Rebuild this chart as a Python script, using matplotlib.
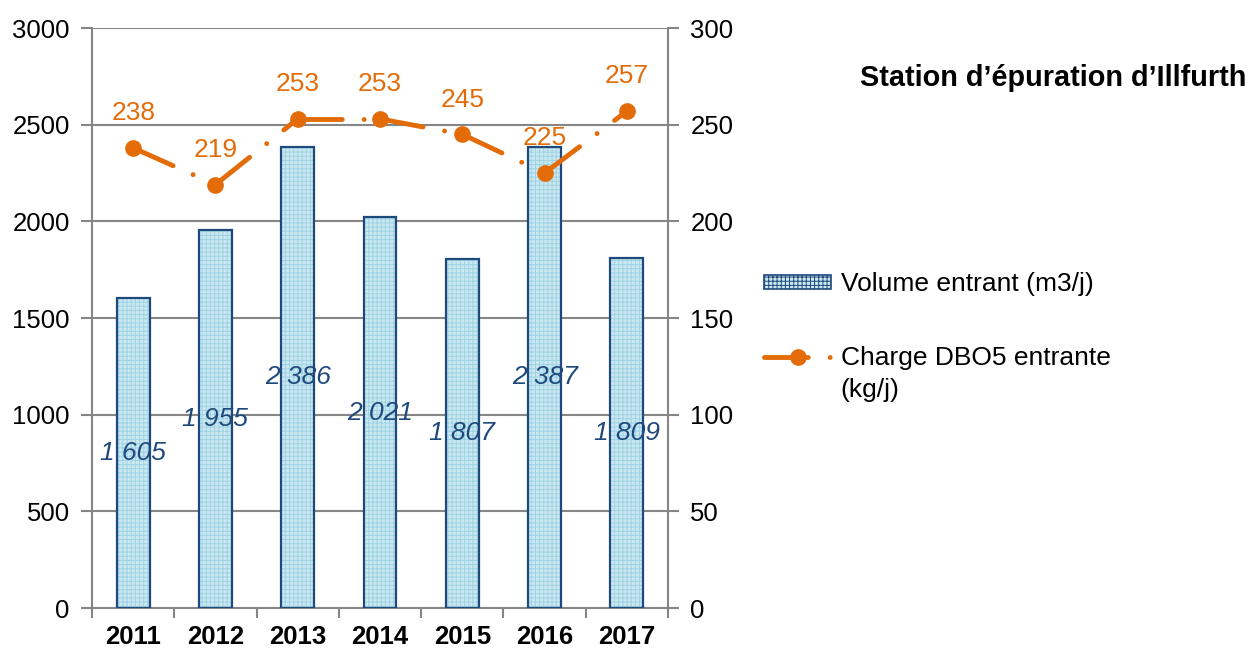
#!/usr/bin/env python3
"""
Station d'épuration d'Illfurth: volume entrant (bars) et charge DBO5 (line).
"""

import matplotlib.pyplot as plt
from matplotlib.patches import Patch
from matplotlib.lines import Line2D
import numpy as np

years = ['2011', '2012', '2013', '2014', '2015', '2016', '2017']
volume = [1605, 1955, 2386, 2021, 1807, 2387, 1809]
volume_labels = ['1 605', '1 955', '2 386', '2 021', '1 807', '2 387', '1 809']
charge = [238, 219, 253, 253, 245, 225, 257]

ORANGE = '#E36C09'
NAVY = '#1F497D'
GREY = '#868686'
FILL = '#CBE8F1'
HATCH = '#9DD3E4'


def main():
    plt.rcParams['font.family'] = ['Liberation Sans', 'DejaVu Sans']
    plt.rcParams['font.size'] = 18.5
    plt.rcParams['hatch.linewidth'] = 0.7

    fig = plt.figure(figsize=(12.55, 6.5), dpi=100)
    ax = fig.add_axes([0.0733, 0.0646, 0.4590, 0.8923])
    ax2 = ax.twinx()

    x = np.arange(len(years))

    # bars: hatched light blue fill, then dark outline on top
    ax.bar(x, volume, width=0.4, color=FILL, edgecolor=HATCH,
           hatch='++++', linewidth=0, zorder=2)
    ax.bar(x, volume, width=0.4, fill=False, edgecolor=NAVY,
           linewidth=1.6, zorder=3)
    for xi, v, lab in zip(x, volume, volume_labels):
        ax.text(xi, v / 2, lab, ha='center', va='center', style='italic',
                color=NAVY, fontsize=19, zorder=4)

    ax.set_xlim(-0.5, len(years) - 0.5)
    ax.set_ylim(0, 3000)
    ax.set_yticks(range(0, 3001, 500))
    ax.yaxis.grid(True, color=GREY, linewidth=1.5)
    ax.set_axisbelow(True)
    ax.set_xticks(x)
    ax.set_xticklabels(years, fontweight='bold')
    ax.set_xticks(np.arange(-0.5, len(years)), minor=True)
    ax.tick_params(axis='x', which='major', length=0, pad=12)
    ax.tick_params(axis='x', which='minor', length=7, color=GREY, width=1.5)
    ax.tick_params(axis='y', length=8, color=GREY, width=1.5, pad=8)
    for s in ['left', 'right', 'bottom']:
        ax.spines[s].set_color(GREY)
        ax.spines[s].set_linewidth(1.5)
    ax.spines['top'].set_visible(False)

    # line: Excel-style dash-dot restarting on each segment
    dashes = (9, 4.5, 0.01, 4.5)
    for i in range(len(charge) - 1):
        ax2.plot(x[i:i + 2], charge[i:i + 2], color=ORANGE, linewidth=3.5,
                 dashes=dashes, dash_capstyle='round', zorder=5)
    ax2.plot(x, charge, linestyle='none', marker='o', markersize=11,
             color=ORANGE, zorder=6)
    for xi, c in zip(x, charge):
        ax2.annotate(str(c), (xi, c), xytext=(0, 25), textcoords='offset points',
                     ha='center', va='center', color=ORANGE, fontsize=19)

    ax2.set_ylim(0, 300)
    ax2.set_yticks(range(0, 301, 50))
    ax2.tick_params(axis='y', length=8, color=GREY, width=1.5, pad=8)
    for s in ['left', 'right', 'bottom', 'top']:
        ax2.spines[s].set_visible(False)

    fig.text(0.685, 0.880, 'Station d\u2019épuration d\u2019Illfurth',
             fontsize=20.8, fontweight='bold', ha='left', va='center')

    handles = [
        Patch(facecolor=FILL, edgecolor=NAVY, hatch='++++', linewidth=1.2),
        Line2D([], [], color=ORANGE, linewidth=3.5, dashes=dashes,
               dash_capstyle='round', marker='o', markersize=11),
    ]
    leg = fig.legend(handles, ['Volume entrant (m3/j)', 'Charge DBO5 entrante'],
                     loc='upper left', bbox_to_anchor=(0.590, 0.618), frameon=False,
                     handlelength=2.55, handleheight=0.45, handletextpad=0.35,
                     labelspacing=1.9, fontsize=19)
    # second line of the line-series label sits under its first line
    fig.canvas.draw()
    bb = leg.get_texts()[1].get_window_extent().transformed(fig.transFigure.inverted())
    fig.text(bb.x0, bb.y0 - 0.012, '(kg/j)', fontsize=19, ha='left', va='top')

    fig.savefig('out.png', dpi=100)
    plt.close(fig)


if __name__ == '__main__':
    main()
